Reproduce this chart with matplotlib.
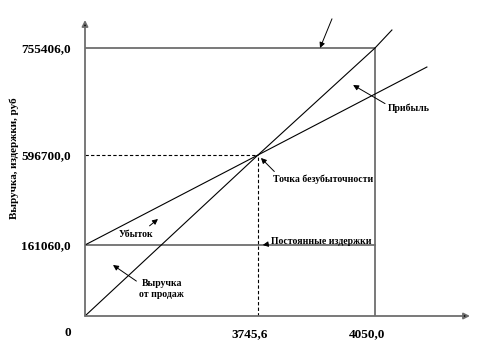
import numpy as np
import matplotlib
matplotlib.use("Agg")
import matplotlib.pyplot as plt
from matplotlib.transforms import ScaledTranslation

plt.rcParams["font.family"] = ["Liberation Serif", "DejaVu Serif"]
plt.rcParams["font.weight"] = "bold"

# Данные графика безубыточности
volume_be = 3745.6      # точка безубыточности, шт
volume_max = 4050.0     # объем продаж
fixed_costs = 161060.0
revenue_be = 596700.0
revenue_max = 755406.0

x_ticks = [volume_be, volume_max]
x_tick_labels = ["3745,6", "4050,0"]
y_ticks = [0, fixed_costs, revenue_be, revenue_max]
y_tick_labels = ["0", "161060,0", "596700,0", "755406,0"]

# линии (схема не в масштабе)
revenue_q = [0, volume_be, volume_max, 4094]
revenue_v = [0, revenue_be, revenue_max, 782100]
costs_q = [0, volume_be, 4185]
costs_v = [fixed_costs, revenue_be, 727200]


def make_scale(vals, pos):
    # кусочно-линейная шкала: схема нарисована не в масштабе
    vals = np.asarray(vals, float)
    pos = np.asarray(pos, float)
    k = (pos[-1] - pos[-2]) / (vals[-1] - vals[-2])

    def fwd(v):
        v = np.asarray(v, float)
        return np.where(v > vals[-1], pos[-1] + (v - vals[-1]) * k, np.interp(v, vals, pos))

    def inv(p):
        p = np.asarray(p, float)
        return np.where(p > pos[-1], vals[-1] + (p - pos[-1]) / k, np.interp(p, pos, vals))

    return fwd, inv


fx, ix = make_scale([0, volume_be, volume_max], [0, 173, 290])
fy, iy = make_scale([0, fixed_costs, revenue_be, revenue_max], [0, 71, 161, 268])

fig = plt.figure(figsize=(4.89, 3.56), dpi=100)
ax = fig.add_axes([85 / 489, 40 / 356, 385 / 489, 296 / 356])
ax.set_xscale("function", functions=(fx, ix))
ax.set_yscale("function", functions=(fy, iy))
ax.set_xlim(0, float(ix(385)))
ax.set_ylim(0, float(iy(296)))

gray = "#6e6e6e"
# рамка: выручка max, объем max, постоянные издержки
ax.plot([0, volume_max], [revenue_max, revenue_max], color=gray, lw=1.3)
ax.plot([volume_max, volume_max], [0, revenue_max], color=gray, lw=1.3)
ax.plot([0, volume_max], [fixed_costs, fixed_costs], color=gray, lw=1.3)

# пунктир к точке безубыточности
ax.plot([0, volume_be], [revenue_be, revenue_be], color="black", lw=0.8, ls=(0, (3, 2)))
ax.plot([volume_be, volume_be], [0, revenue_be], color="black", lw=0.8, ls=(0, (3, 2)))

# выручка и совокупные издержки
ax.plot(revenue_q, revenue_v, color="black", lw=0.8)
ax.plot(costs_q, costs_v, color="black", lw=0.8)

for s in ax.spines.values():
    s.set_visible(False)

# оси со стрелками
axis_arrow = dict(arrowstyle="-|>", ec=gray, fc="black", lw=1.3, mutation_scale=9,
                  shrinkA=0, shrinkB=0)
ax.annotate("", xy=(1, 0), xytext=(0, 0), xycoords="axes fraction", arrowprops=axis_arrow,
            annotation_clip=False)
ax.annotate("", xy=(0, 1), xytext=(0, 0), xycoords="axes fraction", arrowprops=axis_arrow,
            annotation_clip=False)

ax.set_xticks(x_ticks)
ax.set_xticklabels(x_tick_labels)
ax.set_yticks(y_ticks)
ax.set_yticklabels(y_tick_labels)
ax.minorticks_off()
ax.tick_params(axis="both", which="both", length=0, labelsize=9.5)
ax.tick_params(axis="x", pad=9)
ax.tick_params(axis="y", pad=10)
for lab in ax.get_xticklabels():
    lab.set_transform(lab.get_transform() + ScaledTranslation(-8 / 100, 0, fig.dpi_scale_trans))
# "0" стоит ниже начала координат
zero_lab = ax.get_yticklabels()[0]
zero_lab.set_transform(zero_lab.get_transform() + ScaledTranslation(0, -16 / 100, fig.dpi_scale_trans))

fig.text(14 / 489, 1 - 158 / 356, "Выручка, издержки, руб", rotation=90,
         ha="center", va="center", fontsize=8)

arr = dict(arrowstyle="-|>", color="black", lw=0.7, mutation_scale=8, shrinkA=0, shrinkB=0)
fs = 7.0

ax.annotate("", xy=(3907, revenue_max), xytext=(8.6, 21), textcoords="offset points",
            arrowprops=arr)
ax.annotate("Прибыль", xy=(3993, 700500), xytext=(25, -16.6), textcoords="offset points",
            ha="left", va="center", fontsize=fs,
            arrowprops=dict(arr, relpos=(0, 0.8)))
ax.annotate("Точка безубыточности", xy=(volume_be, revenue_be), xytext=(10.8, -17.3),
            textcoords="offset points", ha="left", va="center", fontsize=fs,
            arrowprops=dict(arr, relpos=(0.05, 0.9), shrinkB=3))
ax.annotate("Убыток", xy=(1580, 286900), xytext=(-28, -10.8), textcoords="offset points",
            ha="left", va="center", fontsize=fs,
            arrowprops=dict(arr, relpos=(0.75, 1.0), shrinkA=1))
ax.annotate("Постоянные издержки", xy=(3758, fixed_costs), xytext=(5.8, 2.2),
            textcoords="offset points", ha="left", va="center", fontsize=fs,
            arrowprops=dict(arr, relpos=(0, 0.3)))
ax.annotate("Выручка\nот продаж", xy=(606, 115700), xytext=(35, -17.3),
            textcoords="offset points", ha="center", va="center", fontsize=fs,
            linespacing=1.3, arrowprops=dict(arr, relpos=(0, 0.8)))

fig.savefig("out.png", dpi=100)
